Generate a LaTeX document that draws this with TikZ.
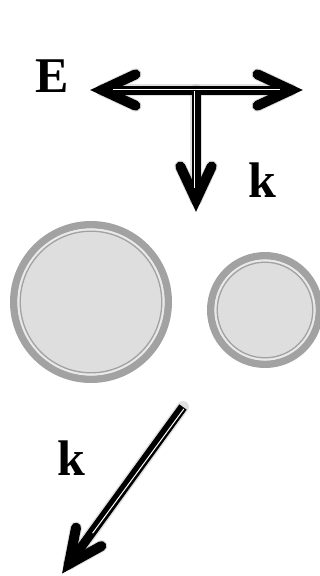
\documentclass[tikz,border=0pt]{standalone}
\usepackage{fontspec}
\setmainfont{Liberation Serif}
\usetikzlibrary{calc}
\definecolor{ringgray}{HTML}{A2A2A2}
\definecolor{fillgray}{HTML}{DEDEDE}
\definecolor{gapgray}{HTML}{E9E9E9}
\tikzset{
  shaft/.style={draw=black, line width=9pt, line cap=butt},
  core/.style={draw=white, line width=1pt, line cap=butt},
  barb/.style={draw=black, line width=10pt, line cap=round, line join=miter},
  shad/.style={draw=black!40, opacity=0.3, line width=12pt, line cap=round, line join=round, shift={(1.5pt,-2.5pt)}},
  lbl/.style={font=\fontsize{50}{50}\selectfont\bfseries, inner sep=0pt, anchor=base},
  ringout/.style={draw=ringgray, line width=7.5pt},
  ringin/.style={draw=ringgray, line width=1.3pt},
  ringgap/.style={draw=gapgray, line width=2.2pt},
}
\begin{document}
\begin{tikzpicture}[x=1pt,y=-1pt]
\useasboundingbox (0,0) rectangle (320,576);
% coordinates
\coordinate (vL) at (102,90);
\coordinate (vR) at (291,90);
\coordinate (J) at (196,90);
\coordinate (vD) at (196,200);
\coordinate (s2) at (183,407);
\coordinate (v2) at (69,564);
% labels
\node[lbl] (E) at (52.5,92) {E};
\node[lbl] (k1) at (262.5,197) {k};
\node[lbl] (k2) at (71.5,475) {k};
% circles
\coordinate (c1) at (91,302);
\coordinate (c2) at (265,310);
\fill[fillgray] (c1) circle[radius=78];
\draw[ringout] (c1) circle[radius=77.25];
\draw[ringgap] (c1) circle[radius=72.5];
\draw[ringin] (c1) circle[radius=70.8];
\fill[fillgray] (c2) circle[radius=55];
\draw[ringout] (c2) circle[radius=54.25];
\draw[ringgap] (c2) circle[radius=49.5];
\draw[ringin] (c2) circle[radius=47.8];
% shadows
\draw[shad] ($(vL)!37pt!25:(vR)$) -- (vL) -- ($(vL)!37pt!-25:(vR)$);
\draw[shad] ($(vR)!37pt!25:(vL)$) -- (vR) -- ($(vR)!37pt!-25:(vL)$);
\draw[shad] (vL) -- (vR);
\draw[shad] (J) -- (vD);
\draw[shad] ($(vD)!37pt!25:(J)$) -- (vD) -- ($(vD)!37pt!-25:(J)$);
\draw[shad] (s2) -- (v2);
\draw[shad] ($(v2)!37pt!25:(s2)$) -- (v2) -- ($(v2)!37pt!-25:(s2)$);
% horizontal E arrow
\draw[shaft] (vL) -- (vR);
\draw[barb] ($(vL)!37pt!25:(vR)$) -- (vL) -- ($(vL)!37pt!-25:(vR)$);
\draw[barb] ($(vR)!37pt!25:(vL)$) -- (vR) -- ($(vR)!37pt!-25:(vL)$);
% vertical k arrow
\draw[shaft] (J) -- (vD);
\draw[barb] ($(vD)!37pt!25:(J)$) -- (vD) -- ($(vD)!37pt!-25:(J)$);
\draw[core] (113,89.5) -- (280,89.5);
\draw[core] (194.5,91) -- (194.5,188);
% lower k arrow
\draw[shaft] (s2) -- (v2);
\draw[barb] ($(v2)!37pt!25:(s2)$) -- (v2) -- ($(v2)!37pt!-25:(s2)$);
\draw[core] ($(s2)+(0.8,2)$) -- ($(s2)!0.8!(v2)+(0.8,0.6)$);
\end{tikzpicture}
\end{document}
